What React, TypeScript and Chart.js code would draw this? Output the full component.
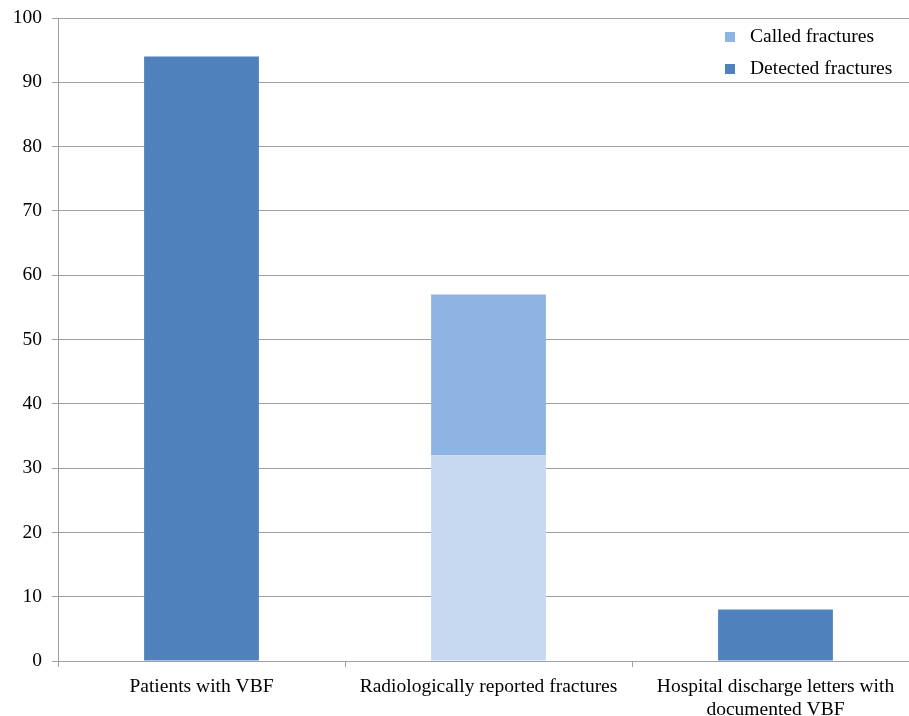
import React, { useEffect, useRef } from "react";
import { Chart, registerables } from "chart.js";

Chart.register(...registerables);

const categories: (string | string[])[] = [
  "Patients with VBF",
  "Radiologically reported fractures",
  ["Hospital discharge letters with", "documented VBF"],
];
const detectedValues = [94, 32, 8];
const calledValues = [0, 25, 0];
const seriesLabels = ["Detected fractures", "Called fractures"];
const yTicks = { min: 0, max: 100, step: 10 };

const DARK = "#4F81BD";
const LIGHT = "#C6D9F0";
const CALLED = "#8EB4E3";
const GRID = "#A0A0A0";
const FONT = "'Liberation Serif', 'Times New Roman', serif";
const FS = 19.5;

const legendPlugin = {
  id: "insideLegend",
  afterDraw(chart: any) {
    const ctx = chart.ctx;
    const ds = [...chart.data.datasets].reverse();
    ctx.save();
    ctx.font = `${FS}px ${FONT}`;
    ctx.textBaseline = "middle";
    ctx.textAlign = "left";
    ds.forEach((d: any, i: number) => {
      const y = 37 + i * 32;
      ctx.fillStyle = d.legendColor;
      ctx.fillRect(725, y - 5, 10, 10);
      ctx.fillStyle = "#000";
      ctx.fillText(d.label, 750, y);
    });
    ctx.restore();
  },
};

export default function App() {
  const ref = useRef<HTMLCanvasElement>(null);
  useEffect(() => {
    if (!ref.current) return;
    const chart = new Chart(ref.current, {
      type: "bar",
      data: {
        labels: categories,
        datasets: [
          {
            label: seriesLabels[0],
            data: detectedValues,
            backgroundColor: [DARK, LIGHT, DARK],
            legendColor: DARK,
            barPercentage: 0.8,
            categoryPercentage: 0.5,
          } as any,
          {
            label: seriesLabels[1],
            data: calledValues,
            backgroundColor: CALLED,
            legendColor: CALLED,
            barPercentage: 0.8,
            categoryPercentage: 0.5,
          } as any,
        ],
      },
      options: {
        animation: false,
        responsive: false,
        layout: { padding: { top: 18, right: 6, left: 0, bottom: 0 } },
        plugins: { legend: { display: false }, tooltip: { enabled: false } },
        scales: {
          x: {
            stacked: true,
            grid: {
              offset: true,
              drawOnChartArea: false,
              drawTicks: true,
              tickLength: 6,
              color: GRID,
            },
            border: { color: GRID, width: 1 },
            ticks: {
              color: "#000",
              font: { family: FONT, size: FS },
              padding: 8,
              maxRotation: 0,
              autoSkip: false,
            },
            afterFit: (s: any) => {
              s.height = 55;
              s.paddingLeft = 0;
              s.paddingRight = 0;
            },
          },
          y: {
            stacked: true,
            min: yTicks.min,
            max: yTicks.max,
            grid: { color: GRID, tickLength: 6, lineWidth: 1 },
            border: { color: GRID, width: 1 },
            ticks: {
              stepSize: yTicks.step,
              color: "#000",
              font: { family: FONT, size: FS },
              padding: 10,
            },
            afterFit: (s: any) => {
              s.width = 58;
              s.paddingTop = 0;
              s.paddingBottom = 0;
            },
          },
        },
      },
      plugins: [legendPlugin],
    });
    return () => chart.destroy();
  }, []);
  return (
    <div
      style={{
        position: "absolute",
        left: 0,
        top: 0,
        width: 909,
        height: 716,
        overflow: "hidden",
        background: "#fff",
      }}
    >
      <canvas ref={ref} width={925} height={716} style={{ display: "block" }} />
    </div>
  );
}
